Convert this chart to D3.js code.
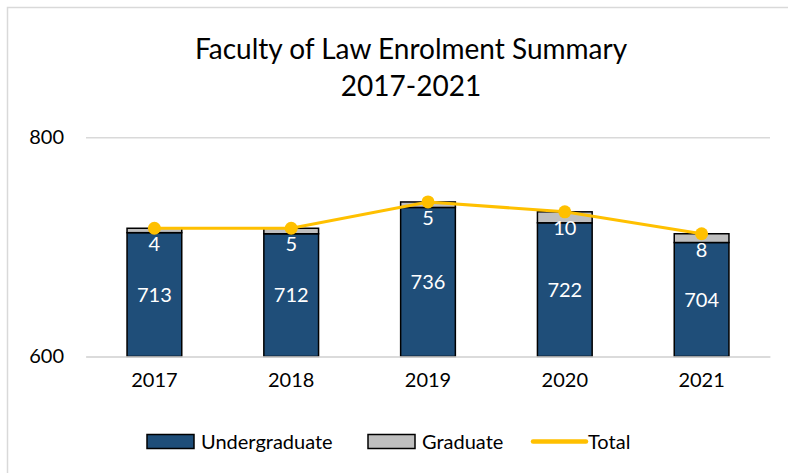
<!DOCTYPE html>
<html>
<head>
<meta charset="utf-8">
<script src="https://cdn.jsdelivr.net/npm/d3@7"></script>
<style>
  body { margin: 0; background: #fff; }
  svg { display: block; font-family: Lato, "Open Sans", sans-serif; }
</style>
</head>
<body>
<svg id="chart" width="788" height="473"></svg>
<script>
const years = ['2017', '2018', '2019', '2020', '2021'];
const undergraduate = [713, 712, 736, 722, 704];
const graduate = [4, 5, 5, 10, 8];
const total = [717, 717, 741, 732, 712];
const yTicks = [600, 800];
const seriesNames = ['Undergraduate', 'Graduate', 'Total'];

const colors = { ug: '#1F4E79', grad: '#BFBFBF', total: '#FFC000', grid: '#D9D9D9' };

const svg = d3.select('#chart');

// chart area frame (only left and top edges are inside the picture)
svg.append('path')
  .attr('d', 'M7.5,473 V7.5 H788')
  .attr('fill', 'none')
  .attr('stroke', colors.grid)
  .attr('stroke-width', 1.5);

const plot = { left: 86, right: 770, top: 137.3, bottom: 356.5 };

const x = d3.scaleBand()
  .domain(years)
  .range([plot.left, plot.right])
  .paddingInner(0.6)
  .paddingOuter(0.3);

const y = d3.scaleLinear()
  .domain([600, 800])
  .range([plot.bottom, plot.top]);

// title
const title = svg.append('text')
  .attr('text-anchor', 'middle')
  .attr('font-size', 28)
  .attr('fill', '#000');
title.append('tspan').attr('x', 411).attr('y', 59).text('Faculty of Law Enrolment Summary');
title.append('tspan').attr('x', 411).attr('y', 96).text('2017-2021');

// gridlines
svg.append('g')
  .attr('transform', `translate(${plot.left},0)`)
  .call(d3.axisLeft(y).tickValues(yTicks).tickSize(-(plot.right - plot.left)).tickFormat(''))
  .call((g) => g.select('.domain').remove())
  .call((g) => g.selectAll('line').attr('stroke', colors.grid).attr('stroke-width', 1.5));

// y labels
svg.append('g')
  .attr('transform', `translate(${plot.left - 22},0)`)
  .call(d3.axisLeft(y).tickValues(yTicks).tickSize(0).tickPadding(0))
  .call((g) => g.select('.domain').remove())
  .call((g) => g.selectAll('text')
    .attr('font-size', 20)
    .attr('font-family', 'Lato, sans-serif')
    .attr('fill', '#000'));

// bars
const rows = years.map((yr, i) => ({
  year: yr, ug: undergraduate[i], grad: graduate[i], total: total[i],
}));

const bars = svg.append('g');
bars.selectAll('rect.ug')
  .data(rows)
  .join('rect')
  .attr('class', 'ug')
  .attr('x', (d) => x(d.year))
  .attr('width', x.bandwidth())
  .attr('y', (d) => y(d.ug))
  .attr('height', (d) => y(600) - y(d.ug))
  .attr('fill', colors.ug)
  .attr('stroke', '#000')
  .attr('stroke-width', 1.5);

bars.selectAll('rect.grad')
  .data(rows)
  .join('rect')
  .attr('class', 'grad')
  .attr('x', (d) => x(d.year))
  .attr('width', x.bandwidth())
  .attr('y', (d) => y(d.ug + d.grad))
  .attr('height', (d) => y(d.ug) - y(d.ug + d.grad))
  .attr('fill', colors.grad)
  .attr('stroke', '#000')
  .attr('stroke-width', 1.5);

// x axis
svg.append('g')
  .attr('transform', `translate(0,${plot.bottom})`)
  .call(d3.axisBottom(x).tickSize(0).tickPadding(16))
  .call((g) => g.select('.domain').attr('stroke', colors.grid).attr('stroke-width', 1.5))
  .call((g) => g.selectAll('text')
    .attr('font-size', 20)
    .attr('font-family', 'Lato, sans-serif')
    .attr('fill', '#000'));

// data labels
const labels = svg.append('g')
  .attr('fill', '#fff')
  .attr('font-size', 20)
  .attr('text-anchor', 'middle');

labels.selectAll('text.ug')
  .data(rows)
  .join('text')
  .attr('class', 'ug')
  .attr('x', (d) => x(d.year) + x.bandwidth() / 2)
  .attr('y', (d) => (y(d.ug) + y(600)) / 2)
  .attr('dy', '0.35em')
  .text((d) => d.ug);

labels.selectAll('text.grad')
  .data(rows)
  .join('text')
  .attr('class', 'grad')
  .attr('x', (d) => x(d.year) + x.bandwidth() / 2)
  .attr('y', (d) => y(d.ug + d.grad) + 16)
  .attr('dy', '0.35em')
  .text((d) => d.grad);

// total line
const line = d3.line()
  .x((d) => x(d.year) + x.bandwidth() / 2)
  .y((d) => y(d.total));

svg.append('path')
  .datum(rows)
  .attr('d', line)
  .attr('fill', 'none')
  .attr('stroke', colors.total)
  .attr('stroke-width', 3);

svg.append('g')
  .selectAll('circle')
  .data(rows)
  .join('circle')
  .attr('cx', (d) => x(d.year) + x.bandwidth() / 2)
  .attr('cy', (d) => y(d.total))
  .attr('r', 6.5)
  .attr('fill', colors.total);

// legend
const legend = svg.append('g').attr('font-size', 20).attr('fill', '#000');
const legendX = [147, 368, 533];
const textX = [201, 422, 588];
const legendY = 441.5;

[0, 1].forEach((i) => {
  legend.append('rect')
    .attr('x', legendX[i])
    .attr('y', legendY - 7)
    .attr('width', 47)
    .attr('height', 14)
    .attr('fill', i === 0 ? colors.ug : colors.grad)
    .attr('stroke', '#000')
    .attr('stroke-width', 1.5);
});
legend.append('line')
  .attr('x1', legendX[2])
  .attr('x2', legendX[2] + 53)
  .attr('y1', legendY)
  .attr('y2', legendY)
  .attr('stroke', colors.total)
  .attr('stroke-width', 4.5)
  .attr('stroke-linecap', 'round');

legend.selectAll('text')
  .data(seriesNames)
  .join('text')
  .attr('x', (d, i) => textX[i])
  .attr('y', legendY)
  .attr('dy', '0.35em')
  .text((d) => d);
</script>
</body>
</html>
